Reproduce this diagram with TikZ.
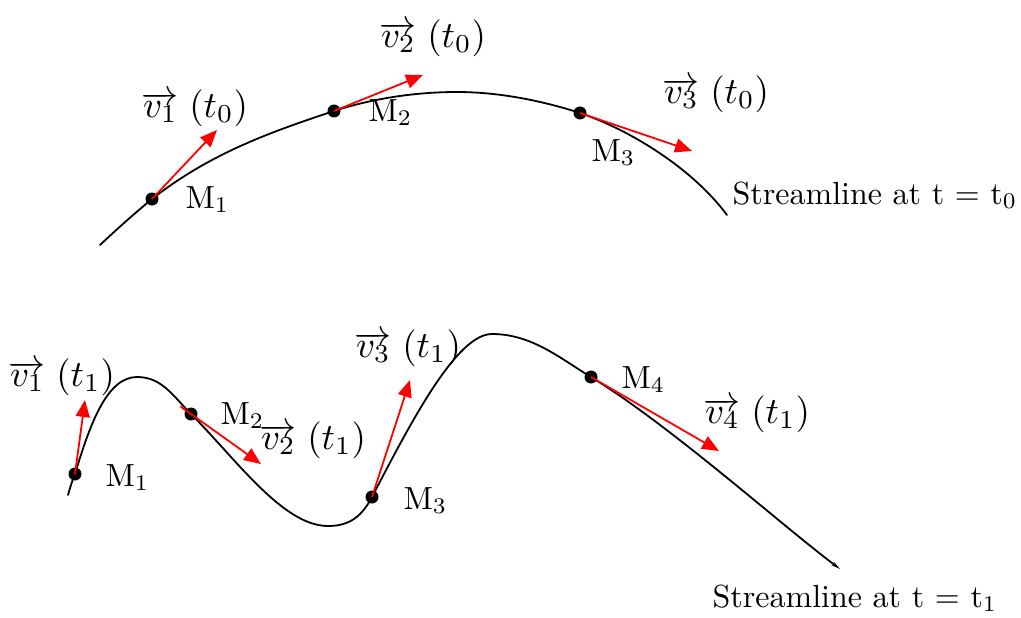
\documentclass[tikz,border=0pt]{standalone}
\usepackage{fontspec}
\usetikzlibrary{arrows.meta}
\begin{document}
\begin{tikzpicture}[x=1pt,y=-1pt,
  curve/.style={line width=1.8pt, black, line cap=round},
  vel/.style={line width=1.8pt, red, -{Triangle[length=17pt,width=14pt]}},
  dot/.style={circle, fill=black, inner sep=0pt, minimum size=13pt},
  mlabel/.style={scale=3.2, inner sep=0pt, anchor=base west},
  vlabel/.style={scale=3.7, inner sep=0pt},
  slabel/.style={scale=3.2, inner sep=0pt, anchor=base west}
]
\useasboundingbox (0,0) rectangle (1021,618);

% ---------- streamline at t0 ----------
\node[dot] (m1t) at (152,199) {};
\node[dot] (m2t) at (334,111) {};
\node[dot] (m3t) at (580,113) {};
\coordinate (s0a) at (100,245);
\coordinate (p0)  at (457,92);
\coordinate (s0b) at (727,215);
\draw[curve] (s0a) .. controls (117,229) and (135,213) .. (m1t.center)
  .. controls (212,152) and (274,131) .. (m2t.center)
  .. controls (374,98) and (417,92) .. (p0)
  .. controls (497,92) and (540,100) .. (m3t.center)
  .. controls (630,130) and (692,168) .. (s0b);

\coordinate (a1t) at (217,130);
\coordinate (a2t) at (423,75);
\coordinate (a3t) at (692,151);
\draw[vel] (m1t.center) -- (a1t);
\draw[vel] (m2t.center) -- (a2t);
\draw[vel] (m3t.center) -- (a3t);

\node[vlabel] (v1t) at (195,108) {$\overrightarrow{v_1}\;(t_0)$};
\node[vlabel] (v2t) at (433,38) {$\overrightarrow{v_2}\;(t_0)$};
\node[vlabel] (v3t) at (716,94) {$\overrightarrow{v_3}\;(t_0)$};
\node[mlabel] (l1t) at (185,208) {M$_1$};
\node[mlabel] (l2t) at (368,121) {M$_2$};
\node[mlabel] (l3t) at (591,161) {M$_3$};
\node[slabel] (st0) at (732,204) {Streamline at t = t$_0$};

% ---------- streamline at t1 ----------
\node[dot] (m1b) at (75,474) {};
\node[dot] (m2b) at (191,414) {};
\node[dot] (m3b) at (372,497) {};
\node[dot] (m4b) at (591,377) {};
\coordinate (s1a) at (68,495);
\coordinate (q1) at (137,377);
\coordinate (q2) at (328,526);
\coordinate (q3) at (492,334);
\coordinate (s1b) at (840,569);
\draw[curve, -{Stealth[length=9pt,width=4pt]}] (s1a) .. controls (70,488) and (72,481) .. (m1b.center)
  .. controls (90,424) and (107,377) .. (q1)
  .. controls (162,377) and (173,396) .. (m2b.center)
  .. controls (236,459) and (283,526) .. (q2)
  .. controls (350,526) and (362,516) .. (m3b.center)
  .. controls (412,420) and (457,334) .. (q3)
  .. controls (532,334) and (561,359) .. (m4b.center)
  .. controls (671,426) and (780,524) .. (s1b);

\coordinate (a1b) at (85,400);
\coordinate (a2b) at (261,464);
\coordinate (a3b) at (410,380);
\coordinate (a4b) at (719,451);
\draw[vel] (m1b.center) -- (a1b);
\draw[vel, shorten <=-13pt] (m2b.center) -- (a2b);
\draw[vel] (m3b.center) -- (a3b);
\draw[vel] (m4b.center) -- (a4b);

\node[vlabel] (v1b) at (62,377) {$\overrightarrow{v_1}\;(t_1)$};
\node[vlabel] (v2b) at (313,440) {$\overrightarrow{v_2}\;(t_1)$};
\node[vlabel] (v3b) at (408,348) {$\overrightarrow{v_3}\;(t_1)$};
\node[vlabel] (v4b) at (757,414) {$\overrightarrow{v_4}\;(t_1)$};
\node[mlabel] (l1b) at (105,486) {M$_1$};
\node[mlabel] (l2b) at (220,424) {M$_2$};
\node[mlabel] (l3b) at (403,509) {M$_3$};
\node[mlabel] (l4b) at (621,388) {M$_4$};
\node[slabel] (st1) at (712,607) {Streamline at t = t$_1$};
\end{tikzpicture}
\end{document}
